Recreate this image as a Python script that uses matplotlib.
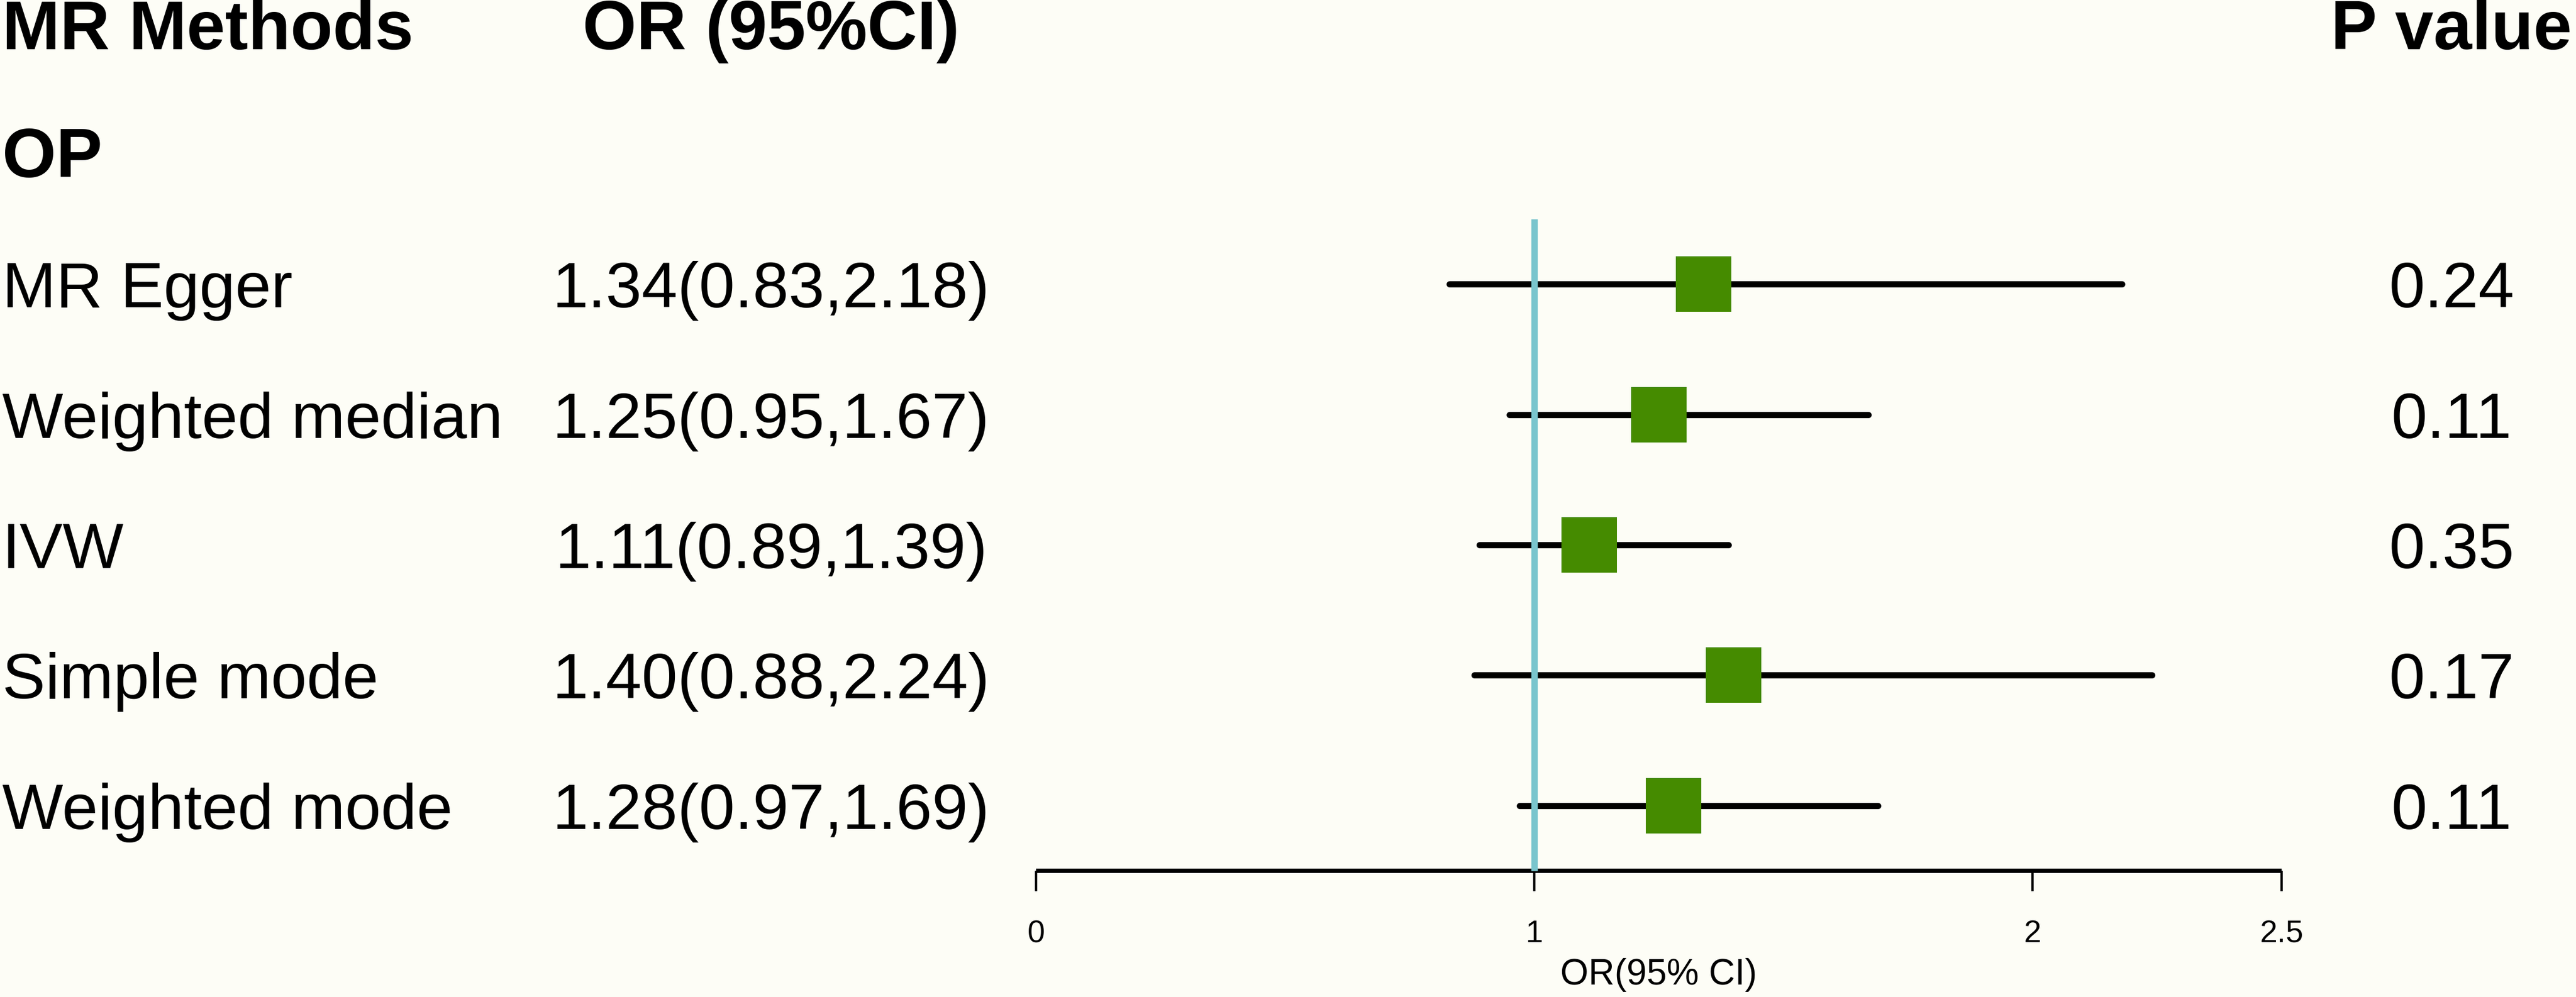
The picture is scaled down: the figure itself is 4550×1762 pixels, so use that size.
#!/usr/bin/env python3
# coding: utf-8
import matplotlib

matplotlib.use("Agg")
import matplotlib.pyplot as plt
from matplotlib import transforms

# Data
METHODS = ["MR Egger", "Weighted median", "IVW", "Simple mode", "Weighted mode"]
OR_EST = [1.34, 1.25, 1.11, 1.40, 1.28]
CI_LOW = [0.83, 0.95, 0.89, 0.88, 0.97]
CI_HIGH = [2.18, 1.67, 1.39, 2.24, 1.69]
P_VALUES = ["0.24", "0.11", "0.35", "0.17", "0.11"]
HEADERS = ["MR Methods", "OR (95%CI)", "P value"]
GROUP = "OP"
X_TICKS = [0, 1, 2, 2.5]
X_TICK_LABELS = ["0", "1", "2", "2.5"]
X_LABEL = "OR(95% CI)"

# Styling
W_PX, H_PX, DPI = 4550, 1762, 100
BG = "#FDFDF6"
BOX_COLOR = "#458B00"
ZERO_COLOR = "#7AC5CD"
FONT = "Liberation Sans"
FS_TEXT = 82
FS_BOLD = 88
FS_TICK = 40
FS_XLAB = 46

plt.rcParams["font.family"] = FONT


def px_x(px: float) -> float:
    return px / W_PX


def main() -> None:
    fig = plt.figure(figsize=(W_PX / DPI, H_PX / DPI), dpi=DPI, facecolor=BG)

    # forest panel: x 0..2.5 spans px 1830..4030, rows 1.5..6.5 span px 387..1539
    left, right = 1830, 4030
    top, bottom = 387, 1539
    ax = fig.add_axes(
        [px_x(left), 1 - bottom / H_PX, (right - left) / W_PX, (bottom - top) / H_PX]
    )
    ax.set_facecolor("none")
    ax.set_xlim(0, 2.5)
    ax.set_ylim(6.5, 1.5)

    rows = list(range(2, 2 + len(METHODS)))

    # confidence intervals
    for r, lo, hi in zip(rows, CI_LOW, CI_HIGH):
        ax.plot([lo, hi], [r, r], color="black", lw=7.9,
                solid_capstyle="round", zorder=2)
    # reference line at OR = 1
    ax.plot([1, 1], [1.5, 6.5], color=ZERO_COLOR, lw=8.2,
            solid_capstyle="butt", zorder=3, clip_on=False)
    # point estimates
    ax.plot(OR_EST, rows, ls="none", marker="s", markersize=70.5,
            markerfacecolor=BOX_COLOR, markeredgewidth=0, zorder=4)

    for side in ("left", "right", "top"):
        ax.spines[side].set_visible(False)
    ax.spines["bottom"].set_linewidth(5.5)
    ax.spines["bottom"].set_capstyle("butt")
    ax.set_yticks([])
    ax.set_xticks(X_TICKS)
    ax.set_xticklabels(X_TICK_LABELS, fontsize=FS_TICK)
    ax.tick_params(axis="x", length=26, width=3, pad=36, direction="out")

    fig.text(px_x((left + right) / 2), 1 - 1740 / H_PX, X_LABEL,
             fontsize=FS_XLAB, ha="center", va="baseline")

    # text table
    trans = transforms.blended_transform_factory(fig.transFigure, ax.transData)
    base = 0.178  # baseline offset below row centre, in rows
    col_left = px_x(4)
    col_or = px_x(1362)
    col_p = px_x(4330)

    head_y = 0 + base + 0.02
    ax.text(col_left, head_y, HEADERS[0], transform=trans, fontsize=FS_BOLD,
            fontweight="bold", ha="left", va="baseline", clip_on=False)
    ax.text(col_or, head_y, HEADERS[1], transform=trans, fontsize=FS_BOLD,
            fontweight="bold", ha="center", va="baseline", clip_on=False)
    ax.text(col_p, head_y, HEADERS[2], transform=trans, fontsize=FS_BOLD,
            fontweight="bold", ha="center", va="baseline", clip_on=False)
    ax.text(col_left, 1 + base, GROUP, transform=trans, fontsize=FS_BOLD,
            fontweight="bold", ha="left", va="baseline", clip_on=False)

    for r, name, o, lo, hi, p in zip(rows, METHODS, OR_EST, CI_LOW, CI_HIGH, P_VALUES):
        ax.text(col_left, r + base, name, transform=trans, fontsize=FS_TEXT,
                ha="left", va="baseline", clip_on=False)
        ax.text(col_or, r + base, f"{o:.2f}({lo:.2f},{hi:.2f})", transform=trans,
                fontsize=FS_TEXT, ha="center", va="baseline", clip_on=False)
        ax.text(col_p, r + base, p, transform=trans, fontsize=FS_TEXT,
                ha="center", va="baseline", clip_on=False)

    fig.savefig("out.png", dpi=DPI, facecolor=BG)


if __name__ == "__main__":
    main()
